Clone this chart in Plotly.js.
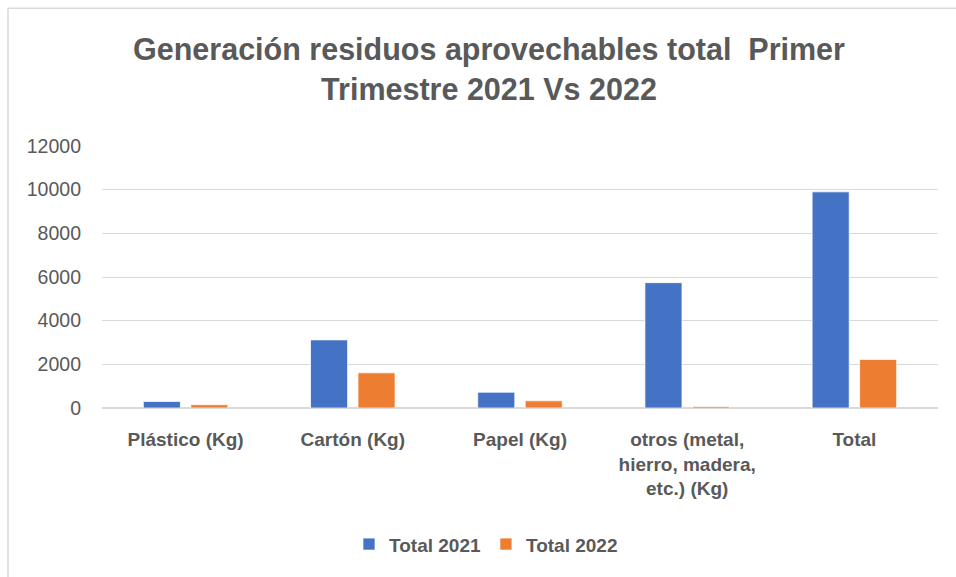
<!DOCTYPE html>
<html>
<head>
<meta charset="utf-8">
<script src="https://cdn.plot.ly/plotly-3.0.1.min.js"></script>
<style>
html,body{margin:0;padding:0;background:#fff;}
#chart{width:956px;height:577px;}
</style>
</head>
<body>
<div id="chart"></div>
<script>
const categories = ["Plástico (Kg)", "Cartón (Kg)", "Papel (Kg)", "otros (metal,<br>hierro, madera,<br>etc.) (Kg)", "Total"];
const seriesNames = ["Total 2021", "Total 2022"];
const total2021 = [300, 3120, 720, 5740, 9900];
const total2022 = [150, 1610, 330, 70, 2220];
const yTicks = [0, 2000, 4000, 6000, 8000, 10000, 12000];

const FONT = "Liberation Sans, Arial, sans-serif";
const GRAY = "#595959";

const traces = [
  {type: "bar", name: seriesNames[0], x: categories, y: total2021,
   marker: {color: "#4472C4", line: {color: "rgba(255,255,255,0.7)", width: 1}}},
  {type: "bar", name: seriesNames[1], x: categories, y: total2022,
   marker: {color: "#ED7D31", line: {color: "rgba(255,255,255,0.7)", width: 1}}}
];

const L = 102, R = 18, T = 146, B = 168.5;
const W = 956, H = 577;
const pw = W - L - R, ph = H - T - B;
const px = v => (v - L) / pw;
const py = v => (H - B - v) / ph;

const layout = {
  width: W, height: H,
  paper_bgcolor: "#ffffff", plot_bgcolor: "#ffffff",
  margin: {l: L, r: R, t: T, b: B, pad: 0},
  font: {family: FONT, color: GRAY},
  title: {
    text: "<b>Generación residuos aprovechables total  Primer<br>Trimestre 2021 Vs 2022</b>",
    font: {family: FONT, size: 30.5, color: GRAY},
    xref: "container", x: 489 / W, xanchor: "center",
    yref: "container", y: 1 - 60 / H, yanchor: "top"
  },
  barmode: "group",
  bargap: 0.432,
  bargroupgap: 0.22,
  xaxis: {
    tickfont: {family: FONT, size: 19, color: GRAY, weight: "bold"},
    ticks: "", showgrid: false, showline: false, zeroline: false,
    ticklabelstandoff: 18
  },
  yaxis: {
    range: [0, 12000], tickvals: yTicks, ticktext: yTicks.map(String),
    tickfont: {family: FONT, size: 19.5, color: GRAY},
    showgrid: true, gridcolor: "#D9D9D9", gridwidth: 1,
    zeroline: true, zerolinecolor: "#D9D9D9", zerolinewidth: 2,
    showline: false, ticks: "", ticklabelstandoff: 20, fixedrange: true
  },
  legend: {
    orientation: "h", x: px(486), xanchor: "center",
    y: py(545), yanchor: "middle",
    font: {family: FONT, size: 19, color: GRAY, weight: "bold"},
    itemwidth: 30, traceorder: "normal"
  },
  shapes: [
    {type: "line", xref: "paper", yref: "paper", x0: px(8), x1: px(960), y0: py(8), y1: py(8),
     line: {color: "#D9D9D9", width: 1.5}},
    {type: "line", xref: "paper", yref: "paper", x0: px(8), x1: px(8), y0: py(8), y1: py(580),
     line: {color: "#D9D9D9", width: 1.5}}
  ]
};

Plotly.newPlot("chart", traces, layout, {displayModeBar: false, staticPlot: true});
</script>
</body>
</html>
